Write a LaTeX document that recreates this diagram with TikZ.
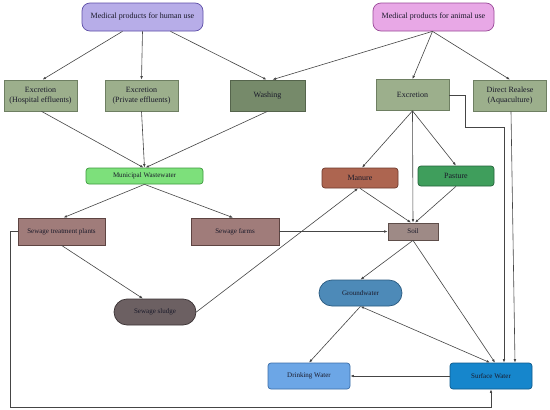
\documentclass[tikz,border=0pt]{standalone}
\usepackage{fontspec}
\setmainfont{Liberation Serif}
\usetikzlibrary{arrows.meta}
\definecolor{humanF}{HTML}{B7ADE8}\definecolor{humanD}{HTML}{5E4FA8}
\definecolor{animalF}{HTML}{E8A8E6}\definecolor{animalD}{HTML}{9A4A98}
\definecolor{excF}{HTML}{9CAF8C}\definecolor{excD}{HTML}{6E7F62}
\definecolor{washF}{HTML}{768A6A}\definecolor{washD}{HTML}{55644C}
\definecolor{muniF}{HTML}{7DE07B}\definecolor{muniD}{HTML}{3E9A3E}
\definecolor{manF}{HTML}{AD6550}\definecolor{manD}{HTML}{6E3A2C}
\definecolor{pasF}{HTML}{3F9E5C}\definecolor{pasD}{HTML}{24633A}
\definecolor{sewF}{HTML}{A07C7A}\definecolor{sewD}{HTML}{5E4442}
\definecolor{soilF}{HTML}{9E8A86}\definecolor{soilD}{HTML}{5E4E4A}
\definecolor{sludF}{HTML}{6C6062}\definecolor{sludD}{HTML}{3A3234}
\definecolor{gwF}{HTML}{4D8AB8}\definecolor{gwD}{HTML}{2A5A80}
\definecolor{drF}{HTML}{6CA6E6}\definecolor{drD}{HTML}{3C6EA8}
\definecolor{swF}{HTML}{1686CC}\definecolor{swD}{HTML}{0E5A8C}
\definecolor{lineC}{HTML}{454545}
\definecolor{txtC}{HTML}{1A1A2A}
\tikzset{
  box/.style={draw, line width=0.7pt, inner sep=1pt, align=center, text=txtC, font=\fontsize{7}{8.5}\selectfont},
  bigtxt/.style={font=\fontsize{8}{9.5}\selectfont},
  topbox/.style={box, bigtxt, rounded corners=8pt, minimum width=121, minimum height=28},
  excbox/.style={box, bigtxt, fill=excF, draw=excD, minimum width=73, minimum height=31},
  roundbox/.style={box, rounded corners=3pt},
  pill/.style={box, rounded corners=13pt, minimum height=26, minimum width=82},
  arr/.style={draw=lineC, line width=0.6pt, -{Latex[length=3.5pt,width=2.6pt]}},
  darr/.style={draw=lineC, line width=0.6pt, {Latex[length=3.5pt,width=2.6pt]}-{Latex[length=3.5pt,width=2.6pt]}}
}
\begin{document}
\begin{tikzpicture}[x=1pt,y=-1pt]
\fill[white] (0,0) rectangle (550,410);
\useasboundingbox (0,0) rectangle (550,410);
% nodes
\node[topbox, fill=humanF, draw=humanD] (human) at (142.5,17) {Medical products for human use};
\node[topbox, fill=animalF, draw=animalD] (animal) at (433.5,17) {Medical products for animal use};
\node[excbox] (hosp) at (40.5,95.5) {Excretion\\(Hospital effluents)};
\node[excbox] (priv) at (141.5,95.5) {Excretion\\(Private effluents)};
\node[excbox, fill=washF, draw=washD, minimum width=75] (wash) at (267.5,95.5) {Washing};
\node[excbox] (exc) at (412.5,95) {Excretion};
\node[excbox] (direct) at (510,95.5) {Direct Realese\\(Aquaculture)};
\node[roundbox, fill=muniF, draw=muniD, minimum width=117, minimum height=16] (muni) at (144.5,176) {Municipal Wastewater};
\node[roundbox, bigtxt, fill=manF, draw=manD, minimum width=76, minimum height=20] (manure) at (360,178) {Manure};
\node[roundbox, bigtxt, fill=pasF, draw=pasD, minimum width=76, minimum height=20] (pasture) at (456,176) {Pasture};
\node[box, fill=sewF, draw=sewD, minimum width=87, minimum height=27] (stp) at (61.5,231.5) {Sewage treatment plants};
\node[box, fill=sewF, draw=sewD, minimum width=88, minimum height=27] (farms) at (235,231.5) {Sewage farms};
\node[box, fill=soilF, draw=soilD, minimum width=50, minimum height=17] (soil) at (413,231.5) {Soil};
\node[pill, fill=sludF, draw=sludD] (sludge) at (155,312) {Sewage sludge};
\node[pill, fill=gwF, draw=gwD, minimum width=83] (gw) at (360.5,293) {Groundwater};
\node[roundbox, fill=drF, draw=drD, minimum width=82, minimum height=26] (drink) at (309,376) {Drinking Water};
\node[roundbox, fill=swF, draw=swD, minimum width=82, minimum height=26] (surf) at (491,376) {Surface Water};
% connectors
\draw[arr] ([xshift=-20pt]human.south) -- ([xshift=2pt]hosp.north);
\draw[arr] (human.south) -- (priv.north);
\draw[arr] ([xshift=28pt]human.south) -- ([xshift=-1pt]wash.north);
\draw[arr] ([xshift=-1pt]animal.south) -- ([xshift=5pt]wash.north);
\draw[arr] ([xshift=-1pt]animal.south) -- (exc.north);
\draw[arr] ([xshift=-1pt]animal.south) -- (direct.north);
\draw[arr] ([xshift=1pt]hosp.south) -- ([xshift=-1pt]muni.north);
\draw[arr] (priv.south) -- (muni.north);
\draw[arr] (wash.south) -- ([xshift=1pt]muni.north);
\draw[arr] (muni.south) -- ([xshift=2pt]stp.north);
\draw[arr] (muni.south) -- ([xshift=-2pt]farms.north);
\draw[arr] (exc.south) -- ([xshift=2pt]manure.north);
\draw[arr] (exc.south) -- (pasture.north);
\draw[arr] (exc.south) -- (soil.north);
\draw[arr] (manure.south) -- ([xshift=-2pt]soil.north);
\draw[arr] (pasture.south) -- ([xshift=2pt]soil.north);
\draw[arr] (farms.east) -- (soil.west);
\draw[arr] (stp.south) -- ([xshift=-12pt]sludge.north);
\draw[arr] (sludge.east) -- ([xshift=-2pt]manure.south);
\draw[arr] (soil.south) -- (gw.north);
\draw[arr] (soil.south) -- ([xshift=4pt]surf.north);
\draw[darr] (gw.south) -- ([xshift=-1pt]surf.north);
\draw[arr] (gw.south) -- (drink.north);
\draw[arr] (surf.west) -- (drink.east);
\coordinate (e1) at (465,127);
\draw[arr] (exc.east) -| (e1) -| ([xshift=13pt]surf.north);
\draw[arr] ([xshift=1pt]direct.south) -- ([xshift=24pt]surf.north);
\coordinate (s1) at (10,407);
\draw[arr] (stp.west) -| (s1) -| (surf.south);
\end{tikzpicture}
\end{document}
